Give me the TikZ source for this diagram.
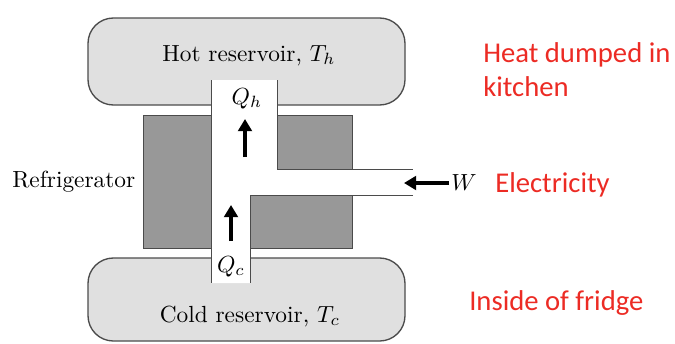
\documentclass[tikz,border=0pt]{standalone}
\usepackage{fontspec}
\newfontfamily\notefont{Carlito}
\usetikzlibrary{arrows.meta}
\definecolor{resgray}{RGB}{224,224,224}
\definecolor{boxgray}{RGB}{152,152,152}
\definecolor{edgegray}{RGB}{75,75,75}
\definecolor{notered}{RGB}{236,43,36}
\newcommand{\bigtxt}[1]{\scalebox{1.75}{#1}}
\begin{document}
\begin{tikzpicture}[x=0.75pt, y=-0.75pt,
    reservoir/.style={fill=resgray, draw=edgegray, line width=1pt, rounded corners=19pt},
    flow/.style={-{Triangle[length=3.2mm,width=3.6mm]}, line width=2.4pt, black},
    lbl/.style={inner sep=0pt, anchor=base, font=\fontsize{10}{12}\selectfont},
    note/.style={inner sep=0pt, anchor=base west, text=notered, font=\notefont\fontsize{21.5}{25}\selectfont}]
  \useasboundingbox (0,0) rectangle (675,343);
  \draw[reservoir] (88,18) rectangle (405,105);
  \draw[reservoir] (88,258) rectangle (405,341);
  \draw[fill=boxgray, draw=edgegray, line width=0.6pt] (143,115) rectangle (352,248);
  % white channel
  \fill[white] (211,80) -- (277,80) -- (277,169) -- (413,169) -- (413,195)
    -- (250,195) -- (250,283) -- (211,283) -- cycle;
  \draw[edgegray, line width=0.7pt] (211,80) -- (211,283);
  \draw[edgegray, line width=0.7pt] (277,80) -- (277,169) -- (413,169);
  \draw[edgegray, line width=0.7pt] (413,195) -- (250,195) -- (250,283);
  \node[lbl] (hot) at (249,61) {\bigtxt{Hot reservoir, $T_h$}};
  \node[lbl] (cold) at (250,322) {\bigtxt{Cold reservoir, $T_c$}};
  \node[lbl, anchor=base west] (fridge) at (12,187) {\bigtxt{Refrigerator}};
  \node[lbl] (Qh) at (247,104) {\bigtxt{$Q_h$}};
  \node[lbl] (Qc) at (231,272) {\bigtxt{$Q_c$}};
  \node[lbl, anchor=base west] (W) at (451,190) {\bigtxt{$W$}};
  \coordinate (qh0) at (245,157);
  \coordinate (qh1) at (245,119);
  \coordinate (qc0) at (231,241);
  \coordinate (qc1) at (231,205);
  \coordinate (wtip) at (404,183);
  \draw[flow] (qh0) -- (qh1);
  \draw[flow] (qc0) -- (qc1);
  \draw[flow] (W.west |- wtip) ++(-2,0) -- (wtip);
  \node[note] (heat) at (483,62) {Heat dumped in};
  \node[note] (kitchen) at (483,96) {kitchen};
  \node[note] (elec) at (495,192) {Electricity};
  \node[note] (inside) at (469,310) {Inside of fridge};
\end{tikzpicture}
\end{document}
